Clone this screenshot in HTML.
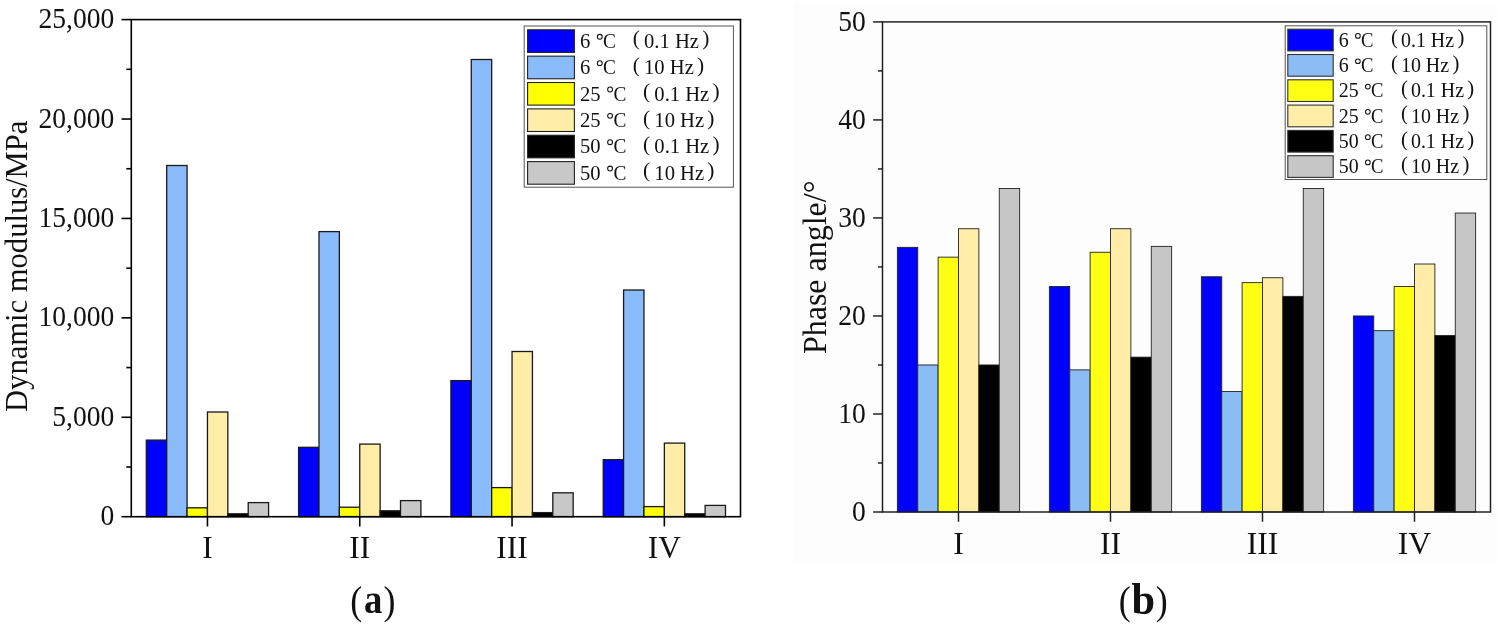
<!DOCTYPE html>
<html><head><meta charset="utf-8"><title>Dynamic modulus and phase angle</title>
<style>html,body{margin:0;padding:0;background:#fff;}svg{display:block;font-family:'Liberation Serif', serif;will-change:transform;}text{fill:#111;}</style>
</head><body>
<svg width="1497" height="626" viewBox="0 0 1497 626">
<rect x="0" y="0" width="1497" height="626" fill="#ffffff"/>
<rect x="794" y="3" width="703" height="560" fill="#fdfdfd"/>
<rect x="146.31" y="440.1" width="20.38" height="76.6" fill="#0000ff" stroke="#1a1a1a" stroke-width="1.3"/>
<rect x="166.69" y="165.5" width="20.38" height="351.2" fill="#8abbfd" stroke="#1a1a1a" stroke-width="1.3"/>
<rect x="187.07" y="507.8" width="20.38" height="8.9" fill="#ffff00" stroke="#1a1a1a" stroke-width="1.3"/>
<rect x="207.45" y="412" width="20.38" height="104.7" fill="#ffeda8" stroke="#1a1a1a" stroke-width="1.3"/>
<rect x="227.83" y="513.8" width="20.38" height="2.9" fill="#000000" stroke="#1a1a1a" stroke-width="1.3"/>
<rect x="248.21" y="502.6" width="20.38" height="14.1" fill="#c8c8c8" stroke="#1a1a1a" stroke-width="1.3"/>
<rect x="298.61" y="447.3" width="20.38" height="69.4" fill="#0000ff" stroke="#1a1a1a" stroke-width="1.3"/>
<rect x="318.99" y="231.6" width="20.38" height="285.1" fill="#8abbfd" stroke="#1a1a1a" stroke-width="1.3"/>
<rect x="339.37" y="507.2" width="20.38" height="9.5" fill="#ffff00" stroke="#1a1a1a" stroke-width="1.3"/>
<rect x="359.75" y="444.1" width="20.38" height="72.6" fill="#ffeda8" stroke="#1a1a1a" stroke-width="1.3"/>
<rect x="380.13" y="510.8" width="20.38" height="5.9" fill="#000000" stroke="#1a1a1a" stroke-width="1.3"/>
<rect x="400.51" y="500.6" width="20.38" height="16.1" fill="#c8c8c8" stroke="#1a1a1a" stroke-width="1.3"/>
<rect x="450.91" y="380.6" width="20.38" height="136.1" fill="#0000ff" stroke="#1a1a1a" stroke-width="1.3"/>
<rect x="471.29" y="59.5" width="20.38" height="457.2" fill="#8abbfd" stroke="#1a1a1a" stroke-width="1.3"/>
<rect x="491.67" y="487.6" width="20.38" height="29.1" fill="#ffff00" stroke="#1a1a1a" stroke-width="1.3"/>
<rect x="512.05" y="351.5" width="20.38" height="165.2" fill="#ffeda8" stroke="#1a1a1a" stroke-width="1.3"/>
<rect x="532.43" y="512.6" width="20.38" height="4.1" fill="#000000" stroke="#1a1a1a" stroke-width="1.3"/>
<rect x="552.81" y="492.8" width="20.38" height="23.9" fill="#c8c8c8" stroke="#1a1a1a" stroke-width="1.3"/>
<rect x="603.21" y="459.7" width="20.38" height="57" fill="#0000ff" stroke="#1a1a1a" stroke-width="1.3"/>
<rect x="623.59" y="290" width="20.38" height="226.7" fill="#8abbfd" stroke="#1a1a1a" stroke-width="1.3"/>
<rect x="643.97" y="506.6" width="20.38" height="10.1" fill="#ffff00" stroke="#1a1a1a" stroke-width="1.3"/>
<rect x="664.35" y="443.1" width="20.38" height="73.6" fill="#ffeda8" stroke="#1a1a1a" stroke-width="1.3"/>
<rect x="684.73" y="513.8" width="20.38" height="2.9" fill="#000000" stroke="#1a1a1a" stroke-width="1.3"/>
<rect x="705.11" y="505.4" width="20.38" height="11.3" fill="#c8c8c8" stroke="#1a1a1a" stroke-width="1.3"/>
<g stroke="#000000" stroke-width="1.6" fill="none" stroke-linecap="butt">
<rect x="131.3" y="19.6" width="609.2" height="497.1"/>
<line x1="121.5" y1="516.7" x2="131.3" y2="516.7"/>
<line x1="121.5" y1="417.28" x2="131.3" y2="417.28"/>
<line x1="121.5" y1="317.86" x2="131.3" y2="317.86"/>
<line x1="121.5" y1="218.44" x2="131.3" y2="218.44"/>
<line x1="121.5" y1="119.02" x2="131.3" y2="119.02"/>
<line x1="121.5" y1="19.6" x2="131.3" y2="19.6"/>
<line x1="126.3" y1="466.99" x2="131.3" y2="466.99"/>
<line x1="126.3" y1="367.57" x2="131.3" y2="367.57"/>
<line x1="126.3" y1="268.15" x2="131.3" y2="268.15"/>
<line x1="126.3" y1="168.73" x2="131.3" y2="168.73"/>
<line x1="126.3" y1="69.31" x2="131.3" y2="69.31"/>
<line x1="207.45" y1="516.7" x2="207.45" y2="526.5"/>
<line x1="359.75" y1="516.7" x2="359.75" y2="526.5"/>
<line x1="512.05" y1="516.7" x2="512.05" y2="526.5"/>
<line x1="664.35" y1="516.7" x2="664.35" y2="526.5"/>
</g>
<text transform="translate(114.3,525.2) scale(1,1.05)" font-size="27.55" text-anchor="end">0</text>
<text transform="translate(114.3,425.78) scale(1,1.05)" font-size="27.55" text-anchor="end">5,000</text>
<text transform="translate(114.3,326.36) scale(1,1.05)" font-size="27.55" text-anchor="end">10,000</text>
<text transform="translate(114.3,226.94) scale(1,1.05)" font-size="27.55" text-anchor="end">15,000</text>
<text transform="translate(114.3,127.52) scale(1,1.05)" font-size="27.55" text-anchor="end">20,000</text>
<text transform="translate(114.3,28.1) scale(1,1.05)" font-size="27.55" text-anchor="end">25,000</text>
<text x="207.45" y="557.5" font-size="31.4" text-anchor="middle">I</text>
<text x="359.75" y="557.5" font-size="31.4" text-anchor="middle">II</text>
<text x="512.05" y="557.5" font-size="31.4" text-anchor="middle">III</text>
<text x="664.35" y="557.5" font-size="31.4" text-anchor="middle">IV</text>
<text transform="translate(26.9,266.3) rotate(-90) scale(1,1.04)" font-size="30.6" text-anchor="middle">Dynamic modulus/MPa</text>
<rect x="524.2" y="26" width="209.2" height="161.2" fill="#ffffff" stroke="#555555" stroke-width="1"/>
<rect x="527.6" y="29.8" width="46.8" height="22.6" fill="#0000ff" stroke="#222222" stroke-width="1.1"/>
<text x="579.9" y="48" font-size="20.6">6</text>
<circle cx="599.78" cy="36.77" r="2.43" fill="none" stroke="#111" stroke-width="1.07"/>
<text x="603.07" y="48" font-size="20.6" textLength="12.88" lengthAdjust="spacingAndGlyphs">C</text>
<text x="632.74" y="45.42" font-size="21.42">(</text>
<text x="644.07" y="48" font-size="20.6">0.1 Hz</text>
<text x="702.18" y="45.42" font-size="21.42">)</text>
<rect x="527.6" y="56.16" width="46.8" height="22.6" fill="#8abbfd" stroke="#222222" stroke-width="1.1"/>
<text x="579.9" y="74.36" font-size="20.6">6</text>
<circle cx="599.78" cy="63.13" r="2.43" fill="none" stroke="#111" stroke-width="1.07"/>
<text x="603.07" y="74.36" font-size="20.6" textLength="12.88" lengthAdjust="spacingAndGlyphs">C</text>
<text x="632.74" y="71.78" font-size="21.42">(</text>
<text x="644.07" y="74.36" font-size="20.6">10 Hz</text>
<text x="697.03" y="71.78" font-size="21.42">)</text>
<rect x="527.6" y="82.52" width="46.8" height="22.6" fill="#ffff00" stroke="#222222" stroke-width="1.1"/>
<text x="579.9" y="100.72" font-size="20.6">25</text>
<circle cx="610.08" cy="89.49" r="2.43" fill="none" stroke="#111" stroke-width="1.07"/>
<text x="613.38" y="100.72" font-size="20.6" textLength="12.88" lengthAdjust="spacingAndGlyphs">C</text>
<text x="643.04" y="98.14" font-size="21.42">(</text>
<text x="654.37" y="100.72" font-size="20.6">0.1 Hz</text>
<text x="712.48" y="98.14" font-size="21.42">)</text>
<rect x="527.6" y="108.88" width="46.8" height="22.6" fill="#ffeda8" stroke="#222222" stroke-width="1.1"/>
<text x="579.9" y="127.08" font-size="20.6">25</text>
<circle cx="610.08" cy="115.85" r="2.43" fill="none" stroke="#111" stroke-width="1.07"/>
<text x="613.38" y="127.08" font-size="20.6" textLength="12.88" lengthAdjust="spacingAndGlyphs">C</text>
<text x="643.04" y="124.5" font-size="21.42">(</text>
<text x="654.37" y="127.08" font-size="20.6">10 Hz</text>
<text x="707.33" y="124.5" font-size="21.42">)</text>
<rect x="527.6" y="135.24" width="46.8" height="22.6" fill="#000000" stroke="#222222" stroke-width="1.1"/>
<text x="579.9" y="153.44" font-size="20.6">50</text>
<circle cx="610.08" cy="142.21" r="2.43" fill="none" stroke="#111" stroke-width="1.07"/>
<text x="613.38" y="153.44" font-size="20.6" textLength="12.88" lengthAdjust="spacingAndGlyphs">C</text>
<text x="643.04" y="150.87" font-size="21.42">(</text>
<text x="654.37" y="153.44" font-size="20.6">0.1 Hz</text>
<text x="712.48" y="150.87" font-size="21.42">)</text>
<rect x="527.6" y="161.6" width="46.8" height="22.6" fill="#c8c8c8" stroke="#222222" stroke-width="1.1"/>
<text x="579.9" y="179.8" font-size="20.6">50</text>
<circle cx="610.08" cy="168.57" r="2.43" fill="none" stroke="#111" stroke-width="1.07"/>
<text x="613.38" y="179.8" font-size="20.6" textLength="12.88" lengthAdjust="spacingAndGlyphs">C</text>
<text x="643.04" y="177.23" font-size="21.42">(</text>
<text x="654.37" y="179.8" font-size="20.6">10 Hz</text>
<text x="707.33" y="177.23" font-size="21.42">)</text>
<rect x="897.36" y="247.35" width="20.38" height="264.65" fill="#0000ff" stroke="#222222" stroke-width="0.9"/>
<rect x="917.74" y="364.97" width="20.38" height="147.03" fill="#8bbcf4" stroke="#222222" stroke-width="0.9"/>
<rect x="938.12" y="257.15" width="20.38" height="254.85" fill="#ffff14" stroke="#222222" stroke-width="0.9"/>
<rect x="958.5" y="228.72" width="20.38" height="283.28" fill="#ffeda8" stroke="#222222" stroke-width="0.9"/>
<rect x="978.88" y="364.97" width="20.38" height="147.03" fill="#000000" stroke="#222222" stroke-width="0.9"/>
<rect x="999.26" y="188.53" width="20.38" height="323.47" fill="#c6c6c6" stroke="#222222" stroke-width="0.9"/>
<rect x="1049.36" y="286.55" width="20.38" height="225.45" fill="#0000ff" stroke="#222222" stroke-width="0.9"/>
<rect x="1069.74" y="369.87" width="20.38" height="142.13" fill="#8bbcf4" stroke="#222222" stroke-width="0.9"/>
<rect x="1090.12" y="252.25" width="20.38" height="259.75" fill="#ffff14" stroke="#222222" stroke-width="0.9"/>
<rect x="1110.5" y="228.72" width="20.38" height="283.28" fill="#ffeda8" stroke="#222222" stroke-width="0.9"/>
<rect x="1130.88" y="357.13" width="20.38" height="154.87" fill="#000000" stroke="#222222" stroke-width="0.9"/>
<rect x="1151.26" y="246.37" width="20.38" height="265.63" fill="#c6c6c6" stroke="#222222" stroke-width="0.9"/>
<rect x="1201.36" y="276.75" width="20.38" height="235.25" fill="#0000ff" stroke="#222222" stroke-width="0.9"/>
<rect x="1221.74" y="391.44" width="20.38" height="120.56" fill="#8bbcf4" stroke="#222222" stroke-width="0.9"/>
<rect x="1242.12" y="282.63" width="20.38" height="229.37" fill="#ffff14" stroke="#222222" stroke-width="0.9"/>
<rect x="1262.5" y="277.73" width="20.38" height="234.27" fill="#ffeda8" stroke="#222222" stroke-width="0.9"/>
<rect x="1282.88" y="296.36" width="20.38" height="215.64" fill="#000000" stroke="#222222" stroke-width="0.9"/>
<rect x="1303.26" y="188.53" width="20.38" height="323.47" fill="#c6c6c6" stroke="#222222" stroke-width="0.9"/>
<rect x="1353.36" y="315.96" width="20.38" height="196.04" fill="#0000ff" stroke="#222222" stroke-width="0.9"/>
<rect x="1373.74" y="330.66" width="20.38" height="181.34" fill="#8bbcf4" stroke="#222222" stroke-width="0.9"/>
<rect x="1394.12" y="286.55" width="20.38" height="225.45" fill="#ffff14" stroke="#222222" stroke-width="0.9"/>
<rect x="1414.5" y="264.01" width="20.38" height="247.99" fill="#ffeda8" stroke="#222222" stroke-width="0.9"/>
<rect x="1434.88" y="335.56" width="20.38" height="176.44" fill="#000000" stroke="#222222" stroke-width="0.9"/>
<rect x="1455.26" y="213.04" width="20.38" height="298.96" fill="#c6c6c6" stroke="#222222" stroke-width="0.9"/>
<g stroke="#1c1c1c" stroke-width="1.45" fill="none" stroke-linecap="butt">
<rect x="882.5" y="21.9" width="608" height="490.1"/>
<line x1="873.1" y1="512" x2="882.5" y2="512"/>
<line x1="873.1" y1="413.98" x2="882.5" y2="413.98"/>
<line x1="873.1" y1="315.96" x2="882.5" y2="315.96"/>
<line x1="873.1" y1="217.94" x2="882.5" y2="217.94"/>
<line x1="873.1" y1="119.92" x2="882.5" y2="119.92"/>
<line x1="873.1" y1="21.9" x2="882.5" y2="21.9"/>
<line x1="877.9" y1="462.99" x2="882.5" y2="462.99"/>
<line x1="877.9" y1="364.97" x2="882.5" y2="364.97"/>
<line x1="877.9" y1="266.95" x2="882.5" y2="266.95"/>
<line x1="877.9" y1="168.93" x2="882.5" y2="168.93"/>
<line x1="877.9" y1="70.91" x2="882.5" y2="70.91"/>
<line x1="958.5" y1="512" x2="958.5" y2="521.8"/>
<line x1="1110.5" y1="512" x2="1110.5" y2="521.8"/>
<line x1="1262.5" y1="512" x2="1262.5" y2="521.8"/>
<line x1="1414.5" y1="512" x2="1414.5" y2="521.8"/>
</g>
<text transform="translate(865.8,521) scale(1,1.05)" font-size="27.55" text-anchor="end">0</text>
<text transform="translate(865.8,422.98) scale(1,1.05)" font-size="27.55" text-anchor="end">10</text>
<text transform="translate(865.8,324.96) scale(1,1.05)" font-size="27.55" text-anchor="end">20</text>
<text transform="translate(865.8,226.94) scale(1,1.05)" font-size="27.55" text-anchor="end">30</text>
<text transform="translate(865.8,128.92) scale(1,1.05)" font-size="27.55" text-anchor="end">40</text>
<text transform="translate(865.8,30.9) scale(1,1.05)" font-size="27.55" text-anchor="end">50</text>
<text x="958.5" y="553.5" font-size="31.7" text-anchor="middle">I</text>
<text x="1110.5" y="553.5" font-size="31.7" text-anchor="middle">II</text>
<text x="1262.5" y="553.5" font-size="31.7" text-anchor="middle">III</text>
<text x="1414.5" y="553.5" font-size="31.7" text-anchor="middle">IV</text>
<text transform="translate(825.7,267.3) rotate(-90) scale(1,1.02)" font-size="32" text-anchor="middle">Phase angle/&#176;</text>
<rect x="1285.2" y="25.8" width="201.6" height="153.7" fill="#ffffff" stroke="#555555" stroke-width="1"/>
<rect x="1287.8" y="29.2" width="45.4" height="21.7" fill="#0000ff" stroke="#333333" stroke-width="1.1"/>
<text x="1338.7" y="46.8" font-size="19.9">6</text>
<circle cx="1357.9" cy="35.95" r="2.35" fill="none" stroke="#111" stroke-width="1.03"/>
<text x="1361.09" y="46.8" font-size="19.9" textLength="12.44" lengthAdjust="spacingAndGlyphs">C</text>
<text x="1390.94" y="44.31" font-size="20.7">(</text>
<text x="1400.99" y="46.8" font-size="19.9">0.1 Hz</text>
<text x="1457.42" y="44.31" font-size="20.7">)</text>
<rect x="1287.8" y="54.5" width="45.4" height="21.7" fill="#8bbcf4" stroke="#333333" stroke-width="1.1"/>
<text x="1338.7" y="72.1" font-size="19.9">6</text>
<circle cx="1357.9" cy="61.25" r="2.35" fill="none" stroke="#111" stroke-width="1.03"/>
<text x="1361.09" y="72.1" font-size="19.9" textLength="12.44" lengthAdjust="spacingAndGlyphs">C</text>
<text x="1390.94" y="69.61" font-size="20.7">(</text>
<text x="1400.99" y="72.1" font-size="19.9">10 Hz</text>
<text x="1452.45" y="69.61" font-size="20.7">)</text>
<rect x="1287.8" y="79.8" width="45.4" height="21.7" fill="#ffff14" stroke="#333333" stroke-width="1.1"/>
<text x="1338.7" y="97.4" font-size="19.9">25</text>
<circle cx="1367.85" cy="86.55" r="2.35" fill="none" stroke="#111" stroke-width="1.03"/>
<text x="1371.04" y="97.4" font-size="19.9" textLength="12.44" lengthAdjust="spacingAndGlyphs">C</text>
<text x="1400.89" y="94.91" font-size="20.7">(</text>
<text x="1410.94" y="97.4" font-size="19.9">0.1 Hz</text>
<text x="1467.37" y="94.91" font-size="20.7">)</text>
<rect x="1287.8" y="105.1" width="45.4" height="21.7" fill="#ffeda8" stroke="#333333" stroke-width="1.1"/>
<text x="1338.7" y="122.7" font-size="19.9">25</text>
<circle cx="1367.85" cy="111.85" r="2.35" fill="none" stroke="#111" stroke-width="1.03"/>
<text x="1371.04" y="122.7" font-size="19.9" textLength="12.44" lengthAdjust="spacingAndGlyphs">C</text>
<text x="1400.89" y="120.21" font-size="20.7">(</text>
<text x="1410.94" y="122.7" font-size="19.9">10 Hz</text>
<text x="1462.4" y="120.21" font-size="20.7">)</text>
<rect x="1287.8" y="130.4" width="45.4" height="21.7" fill="#000000" stroke="#333333" stroke-width="1.1"/>
<text x="1338.7" y="148" font-size="19.9">50</text>
<circle cx="1367.85" cy="137.15" r="2.35" fill="none" stroke="#111" stroke-width="1.03"/>
<text x="1371.04" y="148" font-size="19.9" textLength="12.44" lengthAdjust="spacingAndGlyphs">C</text>
<text x="1400.89" y="145.51" font-size="20.7">(</text>
<text x="1410.94" y="148" font-size="19.9">0.1 Hz</text>
<text x="1467.37" y="145.51" font-size="20.7">)</text>
<rect x="1287.8" y="155.7" width="45.4" height="21.7" fill="#c6c6c6" stroke="#333333" stroke-width="1.1"/>
<text x="1338.7" y="173.3" font-size="19.9">50</text>
<circle cx="1367.85" cy="162.45" r="2.35" fill="none" stroke="#111" stroke-width="1.03"/>
<text x="1371.04" y="173.3" font-size="19.9" textLength="12.44" lengthAdjust="spacingAndGlyphs">C</text>
<text x="1400.89" y="170.81" font-size="20.7">(</text>
<text x="1410.94" y="173.3" font-size="19.9">10 Hz</text>
<text x="1462.4" y="170.81" font-size="20.7">)</text>
<text transform="translate(350.3,613.8) scale(0.9,1)" font-size="39.9">(</text>
<text transform="translate(363.9,613.2) scale(0.9,1)" font-size="40.8" font-weight="bold">a</text>
<text transform="translate(383.4,613.8) scale(0.9,1)" font-size="39.9">)</text>
<text transform="translate(1118.8,613.8) scale(0.9,1)" font-size="39.9">(</text>
<text transform="translate(1131.5,614.2) scale(1.04,1.1)" font-size="40.8" font-weight="bold">b</text>
<text transform="translate(1155.8,613.8) scale(0.9,1)" font-size="39.9">)</text>
</svg>
</body></html>
